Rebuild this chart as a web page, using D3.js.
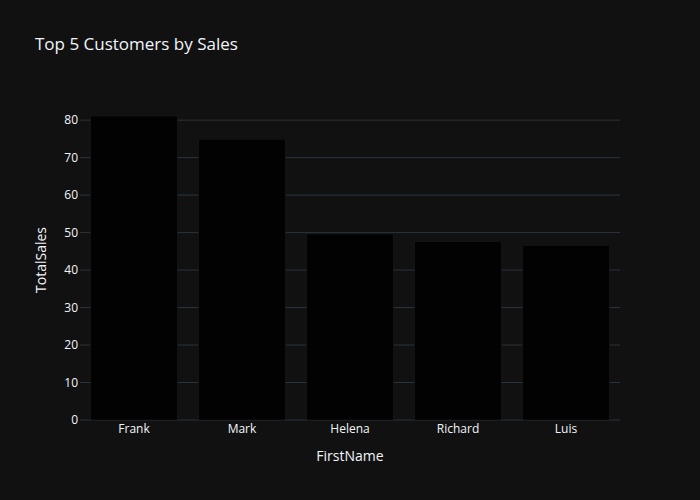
<!DOCTYPE html>
<html><head><meta charset="utf-8">
<script src="https://cdn.jsdelivr.net/npm/d3@7"></script>
<style>body{margin:0;background:#111111}</style>
</head><body><div id="chart"></div>
<script>
var names = ['Frank', 'Mark', 'Helena', 'Richard', 'Luis'];
var sales = [81.1, 74.9, 49.62, 47.62, 46.62];
var yTicks = [0, 10, 20, 30, 40, 50, 60, 70, 80];

var w = 700, h = 500,
  m = {top: 100, right: 80, bottom: 80, left: 80};

var svg = d3.select('#chart').append('svg')
  .attr('width', w).attr('height', h)
  .style('font-family', '"Open Sans", sans-serif');

svg.append('rect').attr('width', w).attr('height', h).attr('fill', '#111111');

var x = d3.scaleBand().domain(names).range([m.left, w - m.right])
  .paddingInner(0.2).paddingOuter(0.1);
var y = d3.scaleLinear().domain([0, 85.37]).range([h - m.bottom, m.top]);

// grid
svg.selectAll('.grid').data(yTicks).enter().append('line')
  .attr('x1', m.left).attr('x2', w - m.right)
  .attr('y1', function(d) { return y(d); }).attr('y2', function(d) { return y(d); })
  .attr('stroke', '#283442').attr('stroke-width', 1);

svg.selectAll('.bar').data(sales).enter().append('rect')
  .attr('x', function(d, i) { return x(names[i]); })
  .attr('width', x.bandwidth())
  .attr('y', function(d) { return y(d); })
  .attr('height', function(d) { return y(0) - y(d); })
  .attr('fill', '#020202')
  .attr('stroke', '#1c1c1c').attr('stroke-width', 0.5);

// y tick labels
svg.selectAll('.yt').data(yTicks).enter().append('text')
  .attr('x', m.left - 2).attr('y', function(d) { return y(d); })
  .attr('dy', '0.35em').attr('text-anchor', 'end')
  .attr('fill', '#f2f5fa').attr('font-size', 12)
  .text(function(d) { return d; });

// x tick labels
svg.selectAll('.xt').data(names).enter().append('text')
  .attr('x', function(d) { return x(d) + x.bandwidth() / 2; })
  .attr('y', h - m.bottom + 13).attr('text-anchor', 'middle')
  .attr('fill', '#f2f5fa').attr('font-size', 12)
  .text(function(d) { return d; });

svg.append('text').attr('x', (m.left + w - m.right) / 2).attr('y', 461)
  .attr('text-anchor', 'middle').attr('fill', '#f2f5fa').attr('font-size', 14)
  .text('FirstName');

svg.append('text').attr('transform', 'translate(46,260) rotate(-90)')
  .attr('text-anchor', 'middle').attr('fill', '#f2f5fa').attr('font-size', 14)
  .text('TotalSales');

svg.append('text').attr('x', 35).attr('y', 50)
  .attr('fill', '#f2f5fa').attr('font-size', 17)
  .text('Top 5 Customers by Sales');
</script></body></html>
